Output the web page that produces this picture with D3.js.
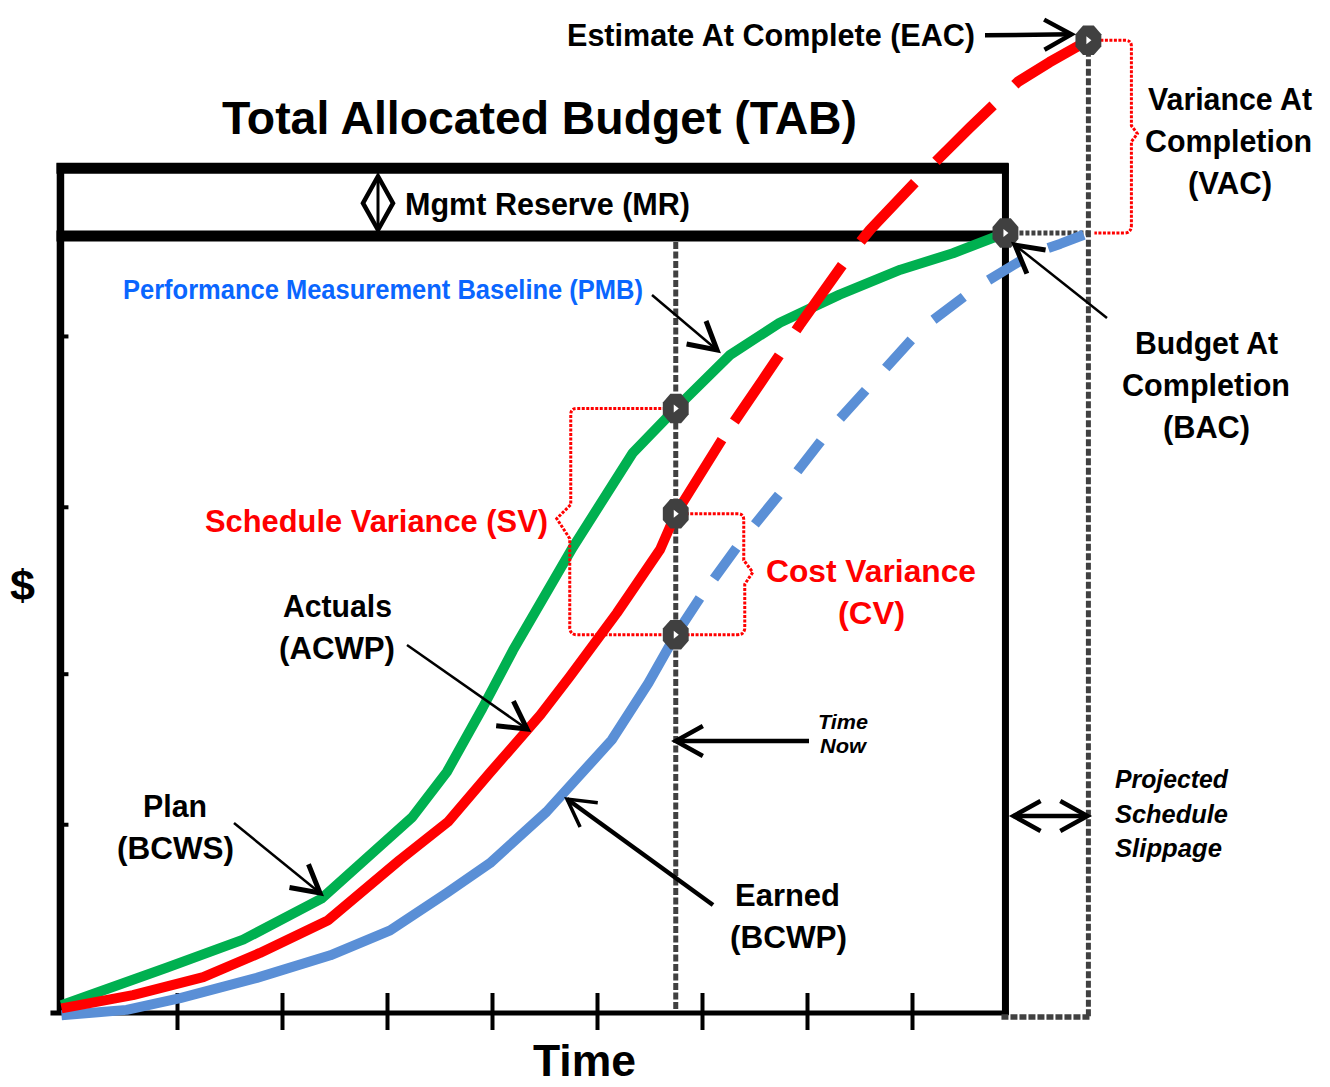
<!DOCTYPE html>
<html>
<head>
<meta charset="utf-8">
<script src="https://cdn.jsdelivr.net/npm/d3@7"></script>
<style>
  body { margin: 0; background: #fff; }
  svg { display: block; }
  text { font-family: "Liberation Sans", Arial, Helvetica, sans-serif; font-weight: bold; }
</style>
</head>
<body>
<svg id="chart" width="1330" height="1087"></svg>
<script>
// Earned value management: plan, actuals and earned curves against time.
// Time is in reporting periods, cost in percent of the budget at completion.

const periodTicks = [1, 2, 3, 4, 5, 6, 7, 8];
const costTicks = [24.2, 43.5, 64.9, 86.8];

const timeStart = -0.11;   // start of the baseline
const timeEnd = 8.89;      // planned completion
const timeNow = 5.75;      // status date
const timeEac = 9.68;      // projected completion

const bac = 100;           // budget at completion
const tab = 108.3;         // total allocated budget (BAC + management reserve)
const eac = 124.7;         // estimate at complete

const pvNow = 77.5;        // planned value at time now
const acNow = 64.0;        // actual cost at time now
const evNow = 48.5;        // earned value at time now

// Plan (BCWS) – the performance measurement baseline
const bcwsTime = [-0.10, 0.90, 1.63, 2.38, 3.24, 3.57, 3.91, 4.20, 4.77, 5.34, 5.75, 6.27, 6.74, 7.31, 7.89, 8.39, 8.89];
const bcwsCost = [1.0, 5.8, 9.4, 14.7, 25.1, 30.9, 39.1, 46.5, 59.7, 71.8, 77.5, 84.4, 88.5, 92.1, 95.3, 97.4, 100];

// Actuals (ACWP) to date
const acwpTime = [-0.10, 0.58, 1.25, 1.79, 2.44, 3.12, 3.58, 3.98, 4.46, 4.74, 5.19, 5.60, 5.75, 6.19];
const acwpCost = [0.6, 2.3, 4.6, 7.7, 11.9, 19.6, 24.5, 30.8, 38.2, 43.1, 51.3, 59.4, 64.0, 73.5];

// Forecast of actuals out to the estimate at complete
const eacTime = [6.19, 6.58, 6.93, 7.39, 7.60, 8.08, 8.55, 9.01, 9.31, 9.68];
const eacCost = [73.5, 81.2, 88.2, 96.9, 100.4, 107.2, 113.5, 119.4, 121.9, 124.7];

// Earned (BCWP) to date
const bcwpTime = [-0.10, 0.52, 1.03, 1.76, 2.46, 3.03, 3.57, 3.98, 4.52, 5.14, 5.49, 5.75, 5.98];
const bcwpCost = [-0.3, 0.4, 1.9, 4.5, 7.4, 10.6, 15.4, 19.2, 25.8, 35.0, 42.3, 48.5, 53.2];

// Forecast of earned value out to projected completion
const projTime = [5.98, 6.38, 6.79, 7.20, 7.65, 8.08, 8.60, 9.15, 9.41, 9.68];
const projCost = [53.2, 60.6, 67.4, 74.5, 81.2, 87.6, 92.9, 97.4, 98.6, 100];

const GREEN = "#00b050", RED = "#ff0000", BLUE = "#5a8fd6", GREY = "#404040";

const svg = d3.select("#chart");
const x = d3.scaleLinear().domain([0, 9]).range([72, 1017]);
const y = d3.scaleLinear().domain([0, 100]).range([1013, 233]);

const xL = x(timeStart), xR = x(timeEnd), xN = x(timeNow), xE = x(timeEac);
const yTab = y(tab), yBac = y(bac) + 3, yZero = y(0);

// ---- frame: total allocated budget box, management reserve band, axes ----
const frame = svg.append("g").attr("stroke", "#000").attr("fill", "none");
frame.append("line").attr("x1", xL - 4).attr("x2", xR + 3).attr("y1", yTab).attr("y2", yTab).attr("stroke-width", 11);
frame.append("line").attr("x1", xL - 4).attr("x2", xR + 3).attr("y1", yBac).attr("y2", yBac).attr("stroke-width", 11);
frame.append("line").attr("x1", xL).attr("x2", xL).attr("y1", yTab - 5).attr("y2", yZero).attr("stroke-width", 7.5);
frame.append("line").attr("x1", xR).attr("x2", xR).attr("y1", yTab - 5).attr("y2", yZero + 2).attr("stroke-width", 7);

// time axis
const xAxis = d3.axisBottom(x).tickValues(periodTicks).tickFormat("").tickSize(17).tickSizeOuter(0);
const gx = svg.append("g").attr("transform", `translate(0,${yZero})`).call(xAxis);
gx.select(".domain").remove();
gx.selectAll(".tick line").attr("y1", -20).attr("stroke", "#000").attr("stroke-width", 4);
svg.append("line").attr("x1", xL - 10).attr("x2", xR + 3).attr("y1", yZero).attr("y2", yZero)
  .attr("stroke", "#000").attr("stroke-width", 5);

// cost axis ticks (inward)
const yAxis = d3.axisRight(y).tickValues(costTicks).tickFormat("").tickSize(8).tickSizeOuter(0);
const gy = svg.append("g").attr("transform", `translate(${xL},0)`).call(yAxis);
gy.select(".domain").remove();
gy.selectAll(".tick line").attr("x1", -3).attr("stroke", "#000").attr("stroke-width", 4);

// ---- reference lines ----
const refs = svg.append("g").attr("fill", "none").attr("stroke", GREY);
refs.append("line").attr("x1", xN).attr("x2", xN).attr("y1", yBac + 6).attr("y2", yZero - 4)
  .attr("stroke-width", 5).attr("stroke-dasharray", "7,2.5");
refs.append("line").attr("x1", xE).attr("x2", xE).attr("y1", y(eac)).attr("y2", yZero + 4)
  .attr("stroke-width", 5).attr("stroke-dasharray", "7,2.5");
refs.append("line").attr("x1", xR - 4).attr("x2", xE + 2).attr("y1", yZero + 4).attr("y2", yZero + 4)
  .attr("stroke-width", 5.5).attr("stroke-dasharray", "7,2");
refs.append("line").attr("x1", xR + 8).attr("x2", xE).attr("y1", y(bac)).attr("y2", y(bac))
  .attr("stroke-width", 5).attr("stroke-dasharray", "4,2");

// ---- curves ----
const line = d3.line().x(d => x(d[0])).y(d => y(d[1])).curve(d3.curveLinear);
const curves = svg.append("g").attr("fill", "none").attr("stroke-linejoin", "round");
curves.append("path").datum(d3.zip(bcwpTime, bcwpCost)).attr("d", line)
  .attr("stroke", BLUE).attr("stroke-width", 10);
curves.append("path").datum(d3.zip(projTime, projCost)).attr("d", line)
  .attr("stroke", BLUE).attr("stroke-width", 10)
  .attr("stroke-dasharray", "38,30").attr("stroke-dashoffset", 44);
curves.append("path").datum(d3.zip(bcwsTime, bcwsCost)).attr("d", line)
  .attr("stroke", GREEN).attr("stroke-width", 10);
curves.append("path").datum(d3.zip(acwpTime, acwpCost)).attr("d", line)
  .attr("stroke", RED).attr("stroke-width", 10);
curves.append("path").datum(d3.zip(eacTime, eacCost)).attr("d", line)
  .attr("stroke", RED).attr("stroke-width", 10.5)
  .attr("stroke-dasharray", "80,30").attr("stroke-dashoffset", 88);

// ---- variance braces (red dotted) ----
const braces = svg.append("g").attr("fill", "none").attr("stroke", RED)
  .attr("stroke-width", 3).attr("stroke-dasharray", "3,1.5");
const yPv = y(pvNow), yAc = y(acNow), yEv = y(evNow), yEac = y(eac), yB = y(bac);

// schedule variance: plan vs earned at time now, brace opening to the left
const sx = xN - 105, sm = (yPv + yEv) / 2 - 3;
braces.append("path").attr("d",
  `M${xN - 10},${yPv} H${sx + 6} Q${sx},${yPv} ${sx},${yPv + 6} V${sm - 14} L${sx - 14},${sm} L${sx - 1},${sm + 20} V${yEv - 6} Q${sx},${yEv} ${sx + 6},${yEv} H${xN - 10}`);

// cost variance: actuals vs earned at time now, brace opening to the right
const cx = xN + 68, cm = (yAc + yEv) / 2;
braces.append("path").attr("d",
  `M${xN + 10},${yAc} H${cx - 6} Q${cx},${yAc} ${cx},${yAc + 6} V${cm - 14} L${cx + 9},${cm - 2} L${cx + 1},${cm + 10} V${yEv - 6} Q${cx},${yEv} ${cx - 6},${yEv} H${xN + 10}`);

// variance at completion: EAC vs BAC
const vx = xE + 43, vm = (yEac + yB) / 2 - 3;
braces.append("path").attr("d",
  `M${xE + 12},${yEac} H${vx - 6} Q${vx},${yEac} ${vx},${yEac + 6} V${vm - 8} L${vx + 6},${vm} L${vx},${vm + 8} V${yB - 8} Q${vx},${yB} ${vx - 7},${yB} H${xE + 6}`);

// ---- markers ----
const markerPts = [
  [timeNow, pvNow], [timeNow, acNow], [timeNow, evNow], [timeEnd, bac], [timeEac, eac]
];
const octagon = d3.range(8).map(i => {
  const a = Math.PI / 8 + i * Math.PI / 4;
  return [14 * Math.cos(a), 16 * Math.sin(a)];
});
const mk = svg.append("g").selectAll("g").data(markerPts).join("g")
  .attr("transform", d => `translate(${x(d[0])},${y(d[1])})`);
mk.append("path").attr("d", "M" + octagon.join("L") + "Z").attr("fill", GREY);
mk.append("path").attr("d", "M-2,-4 L3,0 L-2,4 Z").attr("fill", "#fff");

// ---- arrows ----
const arrows = svg.append("g").attr("fill", "none").attr("stroke", "#000")
  .attr("stroke-linejoin", "miter").attr("stroke-linecap", "butt");
function chevron(tx, ty, fx, fy, len, ang) {
  const a = Math.atan2(fy - ty, fx - tx);
  const p1 = [tx + len * Math.cos(a + ang), ty + len * Math.sin(a + ang)];
  const p2 = [tx + len * Math.cos(a - ang), ty + len * Math.sin(a - ang)];
  return `M${p1}L${tx},${ty}L${p2}`;
}
function arrow(x1, y1, x2, y2, w, hw, both) {
  arrows.append("line").attr("x1", x1).attr("y1", y1).attr("x2", x2).attr("y2", y2).attr("stroke-width", w);
  arrows.append("path").attr("d", chevron(x2, y2, x1, y1, 31, Math.PI / 6.2)).attr("stroke-width", hw);
  if (both) arrows.append("path").attr("d", chevron(x1, y1, x2, y2, 31, Math.PI / 6.2)).attr("stroke-width", hw);
}
arrow(985, y(eac) - 5, xE - 17, y(eac) - 6, 4.5, 4.5);          // EAC
arrow(652, 295, 717, 350, 2.5, 5);                                // PMB
arrow(407, 645, 527, 729, 2.5, 5);                                // Actuals
arrow(234, 823, 320, 893, 2.5, 5);                                // Plan
arrow(713, 905, 567, 799, 4.5, 3.5);                              // Earned
arrow(809, 741, xN, 741, 4.5, 4.5);                               // Time now
arrow(1107, 318, 1015, 245, 2.5, 5);                              // BAC
arrow(xR + 8, 816, xE - 1, 816, 4.5, 4.5, true);                  // schedule slippage

// management reserve span: double-headed diamond arrow
const mx = 378, mTop = yTab + 8, mBot = yBac - 6, mMid = (mTop + mBot) / 2;
arrows.append("path").attr("d", `M${mx - 15},${mMid} L${mx},${mTop} L${mx + 15},${mMid} L${mx},${mBot} Z`)
  .attr("stroke-width", 4.5);
arrows.append("line").attr("x1", mx).attr("x2", mx).attr("y1", mTop).attr("y2", mBot).attr("stroke-width", 3);

// ---- labels ----
const labels = [
  { t: "Estimate At Complete (EAC)", x: 567, y: 46, w: 408, s: 32 },
  { t: "Total Allocated Budget (TAB)", x: 222, y: 134, w: 635, s: 46 },
  { t: "Mgmt Reserve (MR)", x: 405, y: 215, w: 285, s: 32 },
  { t: "Performance Measurement Baseline (PMB)", x: 123, y: 299, w: 520, s: 27, c: "#0a66ff" },
  { t: "Schedule Variance (SV)", x: 205, y: 532, w: 343, s: 31, c: RED },
  { t: "Cost Variance", x: 766, y: 582, w: 210, s: 31, c: RED },
  { t: "(CV)", x: 838, y: 624, w: 67, s: 31, c: RED },
  { t: "Actuals", x: 283, y: 617, w: 109, s: 31 },
  { t: "(ACWP)", x: 279, y: 659, w: 116, s: 31 },
  { t: "Plan", x: 143, y: 817, w: 64, s: 31 },
  { t: "(BCWS)", x: 117, y: 859, w: 117, s: 31 },
  { t: "Earned", x: 735, y: 906, w: 105, s: 31 },
  { t: "(BCWP)", x: 730, y: 948, w: 117, s: 31 },
  { t: "Time", x: 818, y: 729, w: 50, s: 21, i: true },
  { t: "Now", x: 820, y: 753, w: 46, s: 21, i: true },
  { t: "Projected", x: 1115, y: 788, w: 113, s: 26, i: true },
  { t: "Schedule", x: 1115, y: 823, w: 113, s: 26, i: true },
  { t: "Slippage", x: 1115, y: 857, w: 107, s: 26, i: true },
  { t: "Budget At", x: 1135, y: 354, w: 143, s: 31 },
  { t: "Completion", x: 1122, y: 396, w: 168, s: 31 },
  { t: "(BAC)", x: 1163, y: 438, w: 87, s: 31 },
  { t: "Variance At", x: 1148, y: 110, w: 164, s: 31 },
  { t: "Completion", x: 1145, y: 152, w: 167, s: 31 },
  { t: "(VAC)", x: 1188, y: 194, w: 84, s: 31 },
  { t: "$", x: 10, y: 600, w: 25, s: 42 },
  { t: "Time", x: 533, y: 1076, w: 103, s: 44 }
];
svg.append("g").selectAll("text").data(labels).join("text")
  .attr("x", d => d.x).attr("y", d => d.y)
  .attr("font-size", d => d.s)
  .attr("font-style", d => d.i ? "italic" : "normal")
  .attr("fill", d => d.c || "#000")
  .attr("textLength", d => d.w)
  .attr("lengthAdjust", "spacingAndGlyphs")
  .text(d => d.t);
</script>
</body>
</html>
